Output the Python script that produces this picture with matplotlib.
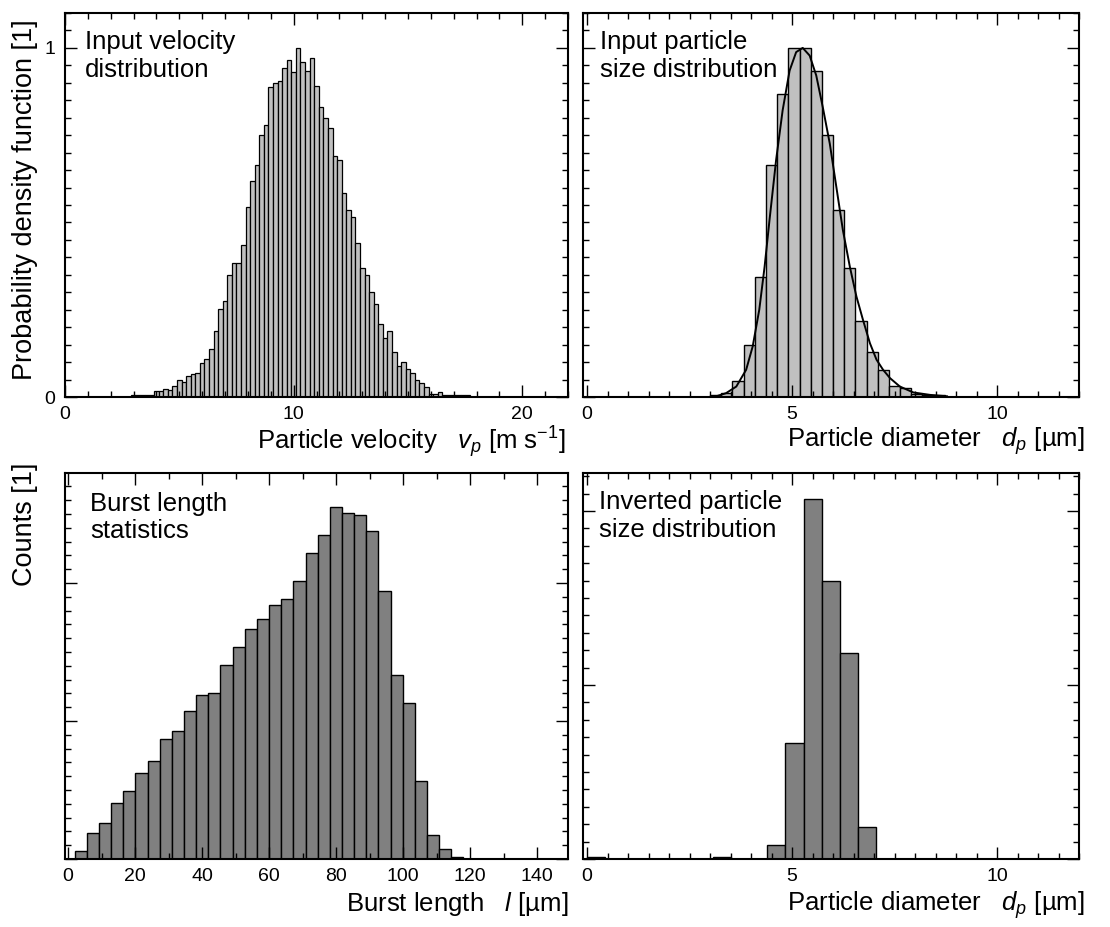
import matplotlib

matplotlib.use("Agg")
import matplotlib.pyplot as plt
import numpy as np
from matplotlib.ticker import MultipleLocator, NullFormatter

plt.rcParams["font.family"] = ["Liberation Sans", "DejaVu Sans"]
plt.rcParams["mathtext.fontset"] = "custom"
plt.rcParams["mathtext.rm"] = "Liberation Sans"
plt.rcParams["mathtext.it"] = "Liberation Sans:italic"

# input velocity pdf, bins of 0.2 m/s starting at 2.9
vel_start = 2.9
vel_width = 0.2
vel_pdf = [
    0.006, 0.006, 0.007, 0.006, 0.007, 0.018, 0.018, 0.023, 0.019, 0.032,
    0.048, 0.042, 0.061, 0.067, 0.070, 0.097, 0.109, 0.138, 0.190, 0.251,
    0.275, 0.350, 0.383, 0.383, 0.435, 0.545, 0.618, 0.664, 0.750, 0.778,
    0.888, 0.899, 0.904, 0.943, 0.966, 0.930, 1.000, 0.960, 0.935, 0.970,
    0.890, 0.830, 0.800, 0.770, 0.690, 0.680, 0.585, 0.535, 0.515, 0.440,
    0.370, 0.350, 0.300, 0.265, 0.210, 0.170, 0.190, 0.130, 0.090, 0.100,
    0.080, 0.070, 0.050, 0.040, 0.030, 0.010, 0.010, 0.015, 0.007, 0.005,
    0.005, 0.005, 0.005, 0.005,
]

# input particle size pdf, 22 bins from 3 to 9 um
size_start = 3.0
size_width = 6.0 / 22
size_pdf = [
    0.005, 0.011, 0.047, 0.150, 0.345, 0.664, 0.869, 1.000, 1.000, 0.933,
    0.750, 0.537, 0.369, 0.219, 0.128, 0.076, 0.032, 0.026, 0.010, 0.007,
    0.005, 0.0,
]
fit_d = [3.15, 3.39, 3.64, 3.88, 4.04, 4.20, 4.33, 4.45, 4.61, 4.77, 4.94, 5.10,
         5.26, 5.43, 5.59, 5.75, 5.92, 6.08, 6.24, 6.41, 6.57, 6.73, 6.90, 7.06,
         7.22, 7.39, 7.63, 7.96, 8.37, 8.78]
fit_pdf = [0.002, 0.011, 0.030, 0.078, 0.145, 0.250, 0.373, 0.507, 0.678, 0.821,
           0.935, 0.988, 1.000, 0.978, 0.921, 0.830, 0.726, 0.602, 0.478, 0.373,
           0.288, 0.221, 0.154, 0.107, 0.078, 0.054, 0.030, 0.013, 0.006, 0.002]

# burst length counts, 32 bins from 2 to 118 um
burst_start = 2.0
burst_width = 116.0 / 32
burst_counts = [
    56, 188, 261, 406, 490, 623, 708, 870, 925, 1070, 1186, 1203, 1403, 1536,
    1667, 1739, 1838, 1884, 2012, 2217, 2345, 2551, 2507, 2490, 2379, 1940,
    1331, 1130, 563, 171, 72, 14,
]

# inverted particle size counts
inv_left = [0.0, 3.08, 4.40, 4.84, 5.28, 5.72, 6.16, 6.60]
inv_width = 0.44
inv_counts = [11, 11, 82, 667, 2069, 1596, 1184, 182]

W, H = 1110, 927
fig = plt.figure(figsize=(W / 100, H / 100), dpi=100)


def px_axes(l, t, r, b):
    return fig.add_axes([l / W, 1 - b / H, (r - l) / W, (b - t) / H])


def style(ax, xmaj, xmin, ymaj, ymin, ylabels=False):
    ax.xaxis.set_major_locator(MultipleLocator(xmaj))
    ax.xaxis.set_minor_locator(MultipleLocator(xmin))
    ax.yaxis.set_major_locator(MultipleLocator(ymaj))
    ax.yaxis.set_minor_locator(MultipleLocator(ymin))
    ax.tick_params(which="both", direction="in", top=True, right=True,
                   labelsize=14, width=1.0, color="black")
    ax.tick_params(which="major", length=8.5)
    ax.tick_params(which="minor", length=4.5)
    ax.tick_params(axis="x", pad=6.5)
    ax.tick_params(axis="y", pad=7)
    if not ylabels:
        ax.yaxis.set_major_formatter(NullFormatter())
    for s in ax.spines.values():
        s.set_linewidth(1.5)


def note(ax, text, dx, dy):
    ax.text(dx, dy, text, transform=ax.transAxes, ha="left", va="top",
            fontsize=18.5, linespacing=1.2)


ax1 = px_axes(65, 13, 568, 397)
edges = vel_start + vel_width * np.arange(len(vel_pdf))
ax1.bar(edges, vel_pdf, width=vel_width, align="edge", color="#c0c0c0",
        edgecolor="black", linewidth=0.9)
ax1.set_xlim(0, 22)
ax1.set_ylim(0, 1.1)
style(ax1, 10, 1, 1, 0.05, ylabels=True)
note(ax1, "Input velocity\ndistribution", 0.04, 0.955)

ax2 = px_axes(583, 13, 1079, 397)
edges = size_start + size_width * np.arange(len(size_pdf))
ax2.bar(edges, size_pdf, width=size_width, align="edge", color="#c0c0c0",
        edgecolor="black", linewidth=1.0)
ax2.plot(fit_d, fit_pdf, color="black", linewidth=1.4)
ax2.set_xlim(-0.1, 12)
ax2.set_ylim(0, 1.1)
style(ax2, 5, 0.5, 1, 0.05)
note(ax2, "Input particle\nsize distribution", 0.035, 0.955)

ax3 = px_axes(65, 473, 568, 859)
edges = burst_start + burst_width * np.arange(len(burst_counts))
ax3.bar(edges, burst_counts, width=burst_width, align="edge", color="#808080",
        edgecolor="black", linewidth=1.0)
ax3.set_xlim(-0.9, 149.2)
ax3.set_ylim(0, 2797)
style(ax3, 20, 10, 1000, 100)
note(ax3, "Burst length\nstatistics", 0.05, 0.952)

ax4 = px_axes(583, 473, 1079, 859)
ax4.bar(inv_left, inv_counts, width=inv_width, align="edge", color="#808080",
        edgecolor="black", linewidth=1.0)
ax4.set_xlim(-0.1, 12)
ax4.set_ylim(0, 2218)
style(ax4, 5, 0.5, 1000, 100)
note(ax4, "Inverted particle\nsize distribution", 0.033, 0.955)


def label(x, y, text, size=18.5, **kw):
    fig.text(x / W, 1 - y / H, text, fontsize=size, **kw)


label(566, 449, "Particle velocity   $v_p$ [m s$^{-1}$]", ha="right", va="baseline")
label(1085, 447, "Particle diameter   $d_p$ [\u00b5m]", ha="right", va="baseline")
label(569, 911, "Burst length   $l$ [\u00b5m]", ha="right", va="baseline")
label(1085, 911, "Particle diameter   $d_p$ [\u00b5m]", ha="right", va="baseline")
label(25, 200, "Probability density function [1]", size=19.5, rotation=90,
      ha="center", va="center")
label(25, 463, "Counts [1]", size=19.5, rotation=90, ha="center", va="top")

fig.savefig("out.png", dpi=100)
